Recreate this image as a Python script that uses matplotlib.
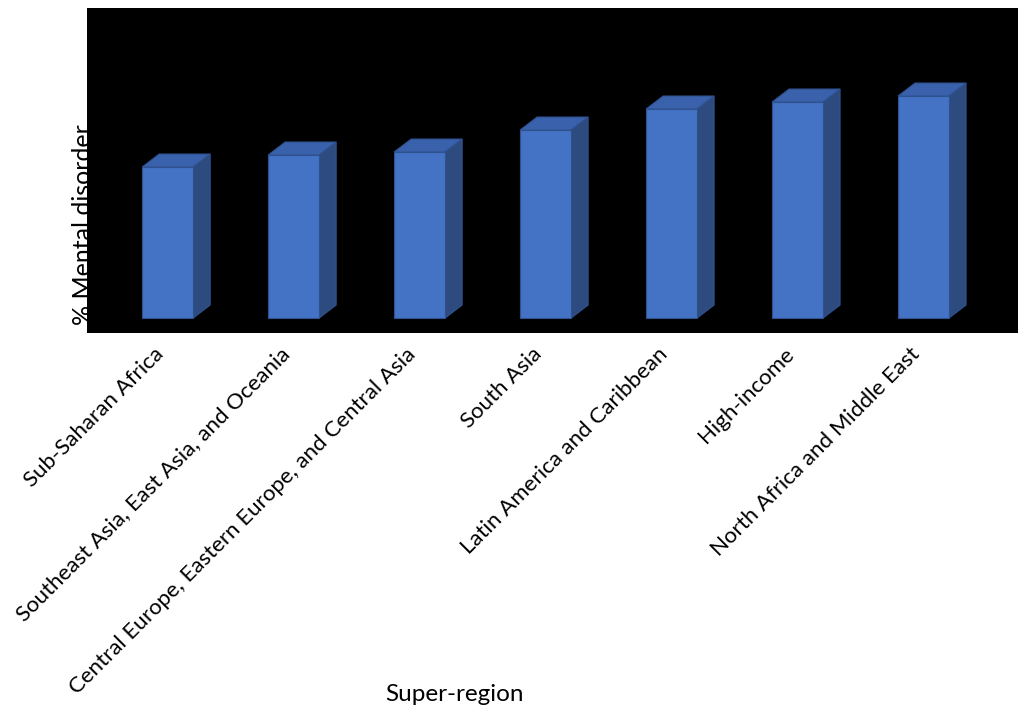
import matplotlib.pyplot as plt
from matplotlib.patches import Polygon
from matplotlib.transforms import ScaledTranslation

# data (no axis scale shown, values read as relative bar heights)
regions = ['Sub-Saharan Africa', 'Southeast Asia, East Asia, and Oceania',
           'Central Europe, Eastern Europe, and Central Asia', 'South Asia',
           'Latin America and Caribbean', 'High-income', 'North Africa and Middle East']
values = [15.1, 16.3, 16.6, 18.8, 20.9, 21.6, 22.2]

plt.rcParams['font.family'] = ['Lato', 'DejaVu Sans']

front = '#4472C4'
top_c = '#3A62AC'
side_c = '#2E4B80'
edge = '#2F528F'

fig = plt.figure(figsize=(10.18, 7.11), dpi=100)
ax = fig.add_axes([0.0855, 0.5316, 0.9145, 0.4571])
ax.set_facecolor('black')

w = 0.405
dx, dy = 0.135, 1.3  # depth of the 3d look

xs = list(range(len(regions)))
ax.bar(xs, values, width=w, color=front, edgecolor=edge, linewidth=0.8, zorder=3)
for x, v in zip(xs, values):
    l, r = x - w / 2, x + w / 2
    ax.add_patch(Polygon([(l, v), (r, v), (r + dx, v + dy), (l + dx, v + dy)],
                         closed=True, facecolor=top_c, edgecolor=edge, lw=0.8, zorder=2))
    ax.add_patch(Polygon([(r, 0), (r + dx, dy), (r + dx, v + dy), (r, v)],
                         closed=True, facecolor=side_c, edgecolor=edge, lw=0.8, zorder=2))

ax.set_xlim(-0.64, 6.75)
ax.set_ylim(-1.5, 31.0)
ax.set_yticks([])
ax.set_xticks(xs)
ax.set_xticklabels(regions, rotation=45, ha='right', rotation_mode='anchor', fontsize=16)
ax.tick_params(axis='x', length=0, pad=8)
shift = ScaledTranslation(-0.14, 0, fig.dpi_scale_trans)
for lab in ax.get_xticklabels():
    lab.set_transform(lab.get_transform() + shift)
for s in ax.spines.values():
    s.set_visible(False)

ax.set_ylabel('% Mental disorder', fontsize=18)
ax.yaxis.set_label_coords(0.009, 0.335)
ax.set_xlabel('Super-region', fontsize=17.5)
ax.xaxis.set_label_coords(0.395, -1.08)

fig.savefig('out.png', dpi=100)
